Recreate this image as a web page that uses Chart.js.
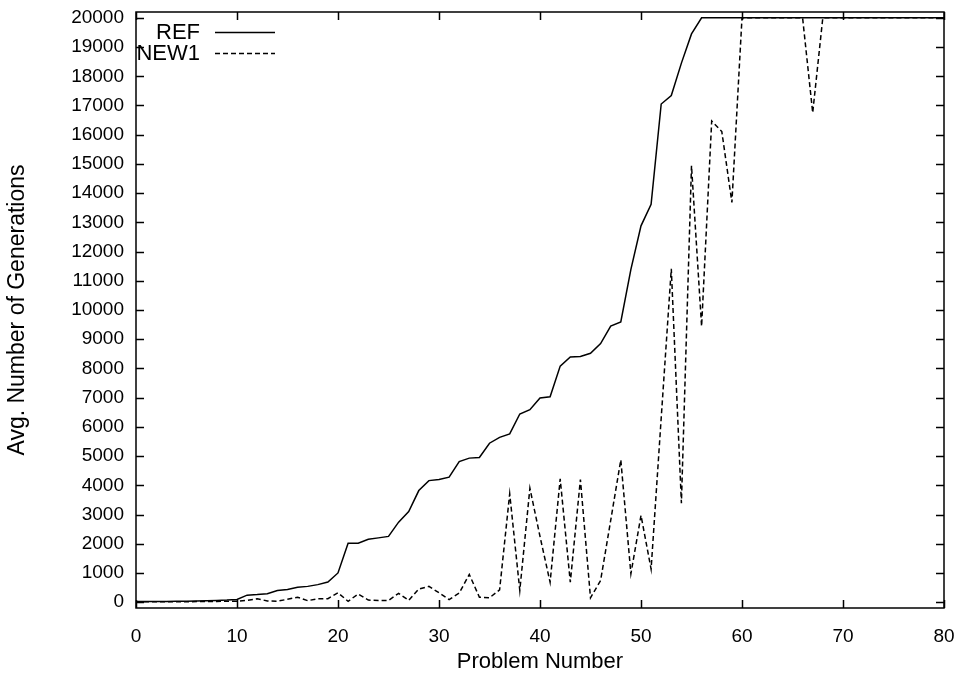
<!DOCTYPE html>
<html>
<head>
<meta charset="utf-8">
<title>Avg. Number of Generations</title>
<script src="https://cdn.jsdelivr.net/npm/chart.js@4.4.0/dist/chart.umd.min.js"></script>
<style>
  html, body { margin: 0; padding: 0; background: #fff; }
  #chartBox { width: 961px; height: 675px; }
</style>
</head>
<body>
<div id="chartBox"><canvas id="generationsChart" width="961" height="675"></canvas></div>
<script>
// Problem numbers along the x axis
var problems = [
    0, 1, 2, 3, 4, 5, 6, 7, 8, 9,
    10, 11, 12, 13, 14, 15, 16, 17, 18, 19,
    20, 21, 22, 23, 24, 25, 26, 27, 28, 29,
    30, 31, 32, 33, 34, 35, 36, 37, 38, 39,
    40, 41, 42, 43, 44, 45, 46, 47, 48, 49,
    50, 51, 52, 53, 54, 55, 56, 57, 58, 59,
    60, 61, 62, 63, 64, 65, 66, 67, 68, 69,
    70, 71, 72, 73, 74, 75, 76, 77, 78, 79,
    80
];

// Average generations, REF run
var refGenerations = [
    20, 20, 20, 25, 30, 35, 40, 50, 60, 70,
    90, 240, 260, 290, 400, 430, 510, 540, 600, 690,
    1000, 2020, 2020, 2150, 2200, 2250, 2740, 3100, 3820, 4160,
    4200, 4280, 4810, 4930, 4950, 5440, 5640, 5760, 6440, 6590,
    6990, 7030, 8080, 8390, 8410, 8520, 8850, 9450, 9590, 11390,
    12880, 13620, 17050, 17340, 18450, 19450, 20000, 20000, 20000, 20000,
    20000, 20000, 20000, 20000, 20000, 20000, 20000, 20000, 20000, 20000,
    20000, 20000, 20000, 20000, 20000, 20000, 20000, 20000, 20000, 20000,
    20000
];

// Average generations, NEW1 run
var new1Generations = [
    10, 10, 10, 10, 15, 15, 20, 20, 25, 30,
    30, 60, 120, 40, 30, 100, 170, 50, 120, 120,
    320, 30, 280, 70, 60, 60, 300, 60, 450, 540,
    320, 90, 310, 950, 170, 150, 420, 3710, 400, 3900,
    2250, 680, 4220, 680, 4200, 150, 740, 2800, 4870, 970,
    2970, 1130, 6300, 11410, 3390, 14940, 9440, 16470, 16110, 13680,
    20000, 20000, 20000, 20000, 20000, 20000, 20000, 16750, 20000, 20000,
    20000, 20000, 20000, 20000, 20000, 20000, 20000, 20000, 20000, 20000,
    20000
];

var xTickValues = [0, 10, 20, 30, 40, 50, 60, 70, 80];
var yTickValues = [
    0, 1000, 2000, 3000, 4000, 5000, 6000, 7000, 8000, 9000, 10000,
    11000, 12000, 13000, 14000, 15000, 16000, 17000, 18000, 19000, 20000
];

var fontFamily = '"Liberation Sans", Arial, Helvetica, sans-serif';
var tickFont = { family: fontFamily, size: 19 };
var titleFont = { family: fontFamily, size: 22 };
var sideTitleFont = { family: fontFamily, size: 23 };

function toPoints(ys) {
    return problems.map(function (p, i) { return { x: p, y: ys[i] }; });
}

// Plot frame with inward ticks on all four sides
var frameTicks = {
    id: 'frameTicks',
    afterDatasetsDraw: function (chart) {
        var ctx = chart.ctx;
        var area = chart.chartArea;
        var xs = chart.scales.x;
        var ys = chart.scales.y;
        var len = 8;
        ctx.save();
        ctx.strokeStyle = '#000';
        ctx.lineWidth = 1.5;
        ctx.beginPath();
        xs.ticks.forEach(function (t) {
            var px = Math.round(xs.getPixelForValue(t.value)) + 0.5;
            ctx.moveTo(px, area.bottom);
            ctx.lineTo(px, area.bottom - len);
            ctx.moveTo(px, area.top);
            ctx.lineTo(px, area.top + len);
        });
        ys.ticks.forEach(function (t) {
            var py = Math.round(ys.getPixelForValue(t.value)) + 0.5;
            ctx.moveTo(area.left, py);
            ctx.lineTo(area.left + len, py);
            ctx.moveTo(area.right, py);
            ctx.lineTo(area.right - len, py);
        });
        ctx.stroke();
        ctx.strokeRect(area.left, area.top, area.right - area.left, area.bottom - area.top);
        ctx.restore();
    }
};

// Key in the top-left corner: label right-aligned, then a line sample
var cornerKey = {
    id: 'cornerKey',
    afterDraw: function (chart) {
        var ctx = chart.ctx;
        var area = chart.chartArea;
        ctx.save();
        ctx.font = titleFont.size + 'px ' + fontFamily;
        ctx.fillStyle = '#000';
        ctx.textAlign = 'right';
        ctx.textBaseline = 'middle';
        chart.data.datasets.forEach(function (ds, i) {
            var y = area.top + 20 + i * 21;
            ctx.fillText(ds.label, area.left + 64, y + 1);
            ctx.strokeStyle = ds.borderColor;
            ctx.lineWidth = ds.borderWidth;
            ctx.setLineDash(ds.borderDash || []);
            ctx.beginPath();
            ctx.moveTo(area.left + 79, y + 0.5);
            ctx.lineTo(area.left + 139, y + 0.5);
            ctx.stroke();
        });
        ctx.restore();
    }
};

var ctx = document.getElementById('generationsChart').getContext('2d');
var generationsChart = new Chart(ctx, {
    type: 'line',
    data: {
        datasets: [
            {
                label: 'REF',
                data: toPoints(refGenerations),
                borderColor: '#000',
                borderWidth: 1.5,
                pointRadius: 0,
                fill: false,
                tension: 0
            },
            {
                label: 'NEW1',
                data: toPoints(new1Generations),
                borderColor: '#000',
                borderWidth: 1.5,
                borderDash: [5, 3],
                pointRadius: 0,
                fill: false,
                tension: 0
            }
        ]
    },
    options: {
        responsive: false,
        animation: false,
        layout: { padding: { left: 0, top: 12, right: 17, bottom: 0 } },
        plugins: {
            legend: { display: false },
            tooltip: { enabled: false }
        },
        scales: {
            x: {
                type: 'linear',
                min: 0,
                max: 80,
                grid: { display: false, drawTicks: false },
                border: { display: false },
                afterBuildTicks: function (scale) {
                    scale.ticks = xTickValues.map(function (v) { return { value: v }; });
                },
                afterFit: function (scale) {
                    scale.height = 67;
                    scale.paddingLeft = 0;
                    scale.paddingRight = 0;
                },
                ticks: {
                    color: '#000', font: tickFont, padding: 17, maxRotation: 0, autoSkip: false,
                    callback: function (v) { return String(v); }
                },
                title: {
                    display: true,
                    text: 'Problem Number',
                    color: '#000',
                    font: titleFont,
                    padding: { top: 0, bottom: 0 }
                }
            },
            y: {
                type: 'linear',
                min: -200,
                max: 20200,
                grid: { display: false, drawTicks: false },
                border: { display: false },
                afterBuildTicks: function (scale) {
                    scale.ticks = yTickValues.map(function (v) { return { value: v }; });
                },
                afterFit: function (scale) {
                    scale.width = 136;
                    scale.paddingTop = 0;
                    scale.paddingBottom = 0;
                },
                ticks: {
                    color: '#000', font: tickFont, padding: 12, autoSkip: false,
                    callback: function (v) { return String(v); }
                },
                title: {
                    display: true,
                    text: 'Avg. Number of Generations',
                    color: '#000',
                    font: sideTitleFont,
                    padding: { top: 4, bottom: 0 }
                }
            }
        }
    },
    plugins: [frameTicks, cornerKey]
});
</script>
</body>
</html>
